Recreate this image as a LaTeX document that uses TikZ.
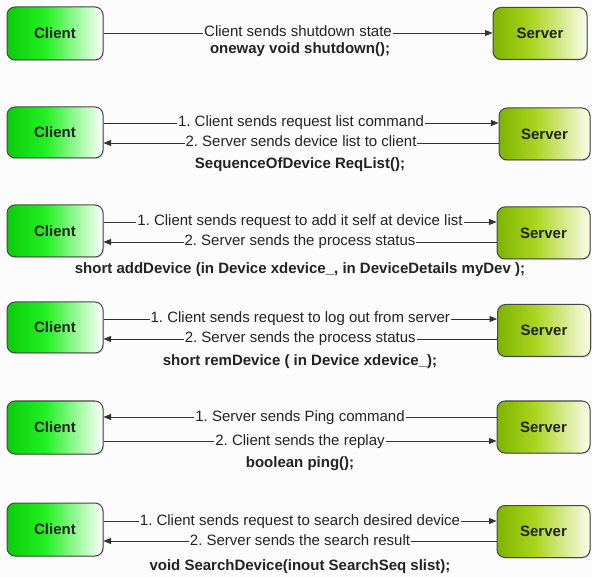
\documentclass[tikz,border=0pt]{standalone}
\usepackage{fontspec}
\setmainfont{Liberation Sans}
\usetikzlibrary{arrows.meta,shadows}
\frenchspacing

\definecolor{pagebg}{RGB}{252,252,252}
\definecolor{edge}{RGB}{70,70,70}
\definecolor{wire}{RGB}{50,50,50}
\definecolor{labeltext}{RGB}{35,35,35}
\definecolor{clA}{RGB}{10,205,10}
\definecolor{clB}{RGB}{35,240,35}
\definecolor{svA}{RGB}{125,180,0}
\definecolor{svB}{RGB}{170,212,30}
\definecolor{svC}{RGB}{250,252,238}

% horizontal fills: strong colour on the left fading to white on the right
\pgfdeclarehorizontalshading{clientfill}{100bp}{color(0bp)=(clA); color(25bp)=(clA);
  color(45bp)=(clB); color(75bp)=(white); color(100bp)=(white)}
\pgfdeclarehorizontalshading{serverfill}{100bp}{color(0bp)=(svA); color(25bp)=(svA);
  color(45bp)=(svB); color(75bp)=(svC); color(100bp)=(svC)}

\begin{document}
\begin{tikzpicture}[x=1pt,y=-1pt,
  font=\fontsize{15}{18}\selectfont,
  box/.style={draw=edge, line width=1pt, rounded corners=8pt,
    font=\fontsize{15}{18}\selectfont\bfseries, text=labeltext, inner sep=0pt,
    drop shadow={opacity=0.25, shadow xshift=1pt, shadow yshift=-1.2pt}},
  clientbox/.style={box, shading=clientfill, minimum width=96pt, minimum height=53pt},
  serverbox/.style={box, shading=serverfill, minimum width=93pt, minimum height=52pt},
  msg/.style={draw=wire, line width=0.9pt, -{Triangle[length=7.5pt,width=6pt]}},
  lbl/.style={fill=pagebg, inner sep=1pt, text=labeltext, text height=11pt, text depth=3pt},
  sig/.style={font=\fontsize{15}{18}\selectfont\bfseries, text=labeltext,
    inner sep=0pt, text height=11pt, text depth=3pt}]

\useasboundingbox[fill=pagebg] (0,0) rectangle (592,577);

% --- shutdown ---
\node[clientbox] (c1) at (55,33.5) {Client};
\node[serverbox, minimum width=94pt] (s1) at (540,33.5) {Server};
\coordinate (y1a) at (300,33);
\draw[msg] (c1.east |- y1a) -- node[lbl] {Client sends shutdown state} (s1.west |- y1a);
\node[sig] (f1) at (300,50) {oneway void shutdown();};

% --- ReqList ---
\node[clientbox, minimum height=51pt] (c2) at (55,132.5) {Client};
\node[serverbox, minimum width=91pt] (s2) at (544.5,134) {Server};
\coordinate (y2a) at (300,123);
\coordinate (y2b) at (300,143);
\draw[msg] (c2.east |- y2a) -- node[lbl] {1. Client sends request list command} (s2.west |- y2a);
\draw[msg] (s2.west |- y2b) -- node[lbl] {2. Server sends device list to client} (c2.east |- y2b);
\node[sig] (f2) at (300,165) {SequenceOfDevice ReqList();};

% --- addDevice ---
\node[clientbox, minimum height=52pt] (c3) at (55,231) {Client};
\node[serverbox] (s3) at (543.5,233) {Server};
\coordinate (y3a) at (300,222);
\coordinate (y3b) at (300,242);
\draw[msg] (c3.east |- y3a) -- node[lbl] {1. Client sends request to add it self at device list} (s3.west |- y3a);
\draw[msg] (s3.west |- y3b) -- node[lbl] {2. Server sends the process status} (c3.east |- y3b);
\node[sig] (f3) at (300,270) {short addDevice (in Device xdevice\_, in DeviceDetails myDev );};

% --- remDevice ---
\node[clientbox, minimum height=51pt] (c4) at (55,327.5) {Client};
\node[serverbox] (s4) at (544,330.5) {Server};
\coordinate (y4a) at (300,319);
\coordinate (y4b) at (300,339);
\draw[msg] (c4.east |- y4a) -- node[lbl] {1. Client sends request to log out from server} (s4.west |- y4a);
\draw[msg] (s4.west |- y4b) -- node[lbl] {2. Server sends the process status} (c4.east |- y4b);
\node[sig] (f4) at (300,362) {short remDevice ( in Device xdevice\_);};

% --- ping ---
\node[clientbox] (c5) at (55,427.5) {Client};
\node[serverbox] (s5) at (543.5,427) {Server};
\coordinate (y5a) at (300,417);
\coordinate (y5b) at (300,441);
\draw[msg] (s5.west |- y5a) -- node[lbl] {1. Server sends Ping command} (c5.east |- y5a);
\draw[msg] (c5.east |- y5b) -- node[lbl] {2. Client sends the replay} (s5.west |- y5b);
\node[sig] (f5) at (300,463) {boolean ping();};

% --- SearchDevice ---
\node[clientbox] (c6) at (55,529.5) {Client};
\node[serverbox] (s6) at (543.5,531.5) {Server};
\coordinate (y6a) at (300,521);
\coordinate (y6b) at (300,541);
\draw[msg] (c6.east |- y6a) -- node[lbl] {1. Client sends request to search desired device} (s6.west |- y6a);
\draw[msg] (s6.west |- y6b) -- node[lbl] {2. Server sends the search result} (c6.east |- y6b);
\node[sig] (f6) at (300,566) {void SearchDevice(inout SearchSeq slist);};

\end{tikzpicture}
\end{document}
